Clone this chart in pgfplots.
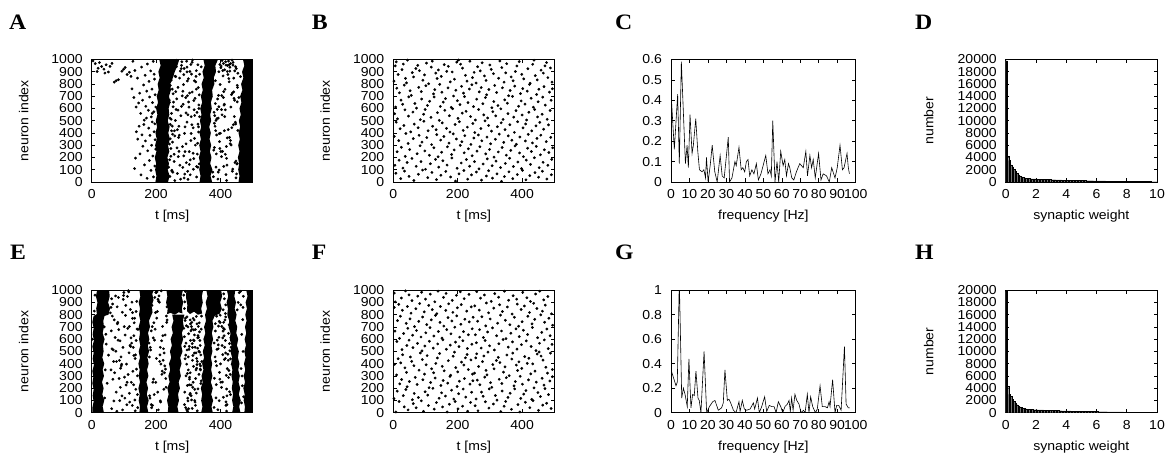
\documentclass[border=0pt]{standalone}
\usepackage{pgfplots}
\pgfplotsset{compat=1.18}
\usepackage{fontspec}
\setmainfont{Liberation Sans}[FakeStretch=1.08]
\newfontfamily\lettfont{Liberation Serif}[FakeStretch=1.08]

\pgfplotsset{
  base/.style={
    scale only axis, height=122.5pt, anchor=south west,
    axis line style={line width=0.8pt},
    tick style={line width=0.6pt, black},
    major tick length=3.5pt,
    tick align=inside,
    scaled ticks=false,
    tick label style={font=\fontsize{13}{13}\selectfont},
    /pgf/number format/assume math mode=true,
    /pgf/number format/1000 sep={},
    xticklabel style={yshift=-4.2pt},
    yticklabel style={xshift=-5.5pt},
    every axis x label/.style={at={(axis description cs:0.5,0)}, anchor=base, yshift=-37.5pt,
      font=\fontsize{13}{13}\selectfont},
  },
  raster/.style={base, width=161pt, xmin=0, xmax=500, ymin=0, ymax=1000,
    xtick={0,200,400}, ytick={0,100,...,1000}, xlabel={t [ms]}, ylabel={neuron index},
    every axis y label/.style={at={(axis description cs:-0.394,0.5)}, rotate=90, anchor=base,
      font=\fontsize{13}{13}\selectfont}},
  spec/.style={base, width=184.7pt, xmin=0, xmax=100, ymin=0,
    xtick={0,10,...,100}, xlabel={frequency [Hz]}},
  hist/.style={base, width=151.3pt, xmin=0, xmax=10, ymin=0, ymax=20000,
    xtick={0,2,...,10}, ytick={0,2000,...,20000}, xlabel={synaptic weight}, ylabel={number},
    every axis y label/.style={at={(axis description cs:-0.4785,0.5)}, rotate=90, anchor=base,
      font=\fontsize{13}{13}\selectfont}},
  dots/.style={only marks, mark=*, mark size=1.2pt, black},
  band/.style={fill=black, draw=none},
  bars/.style={ybar, bar width=0.1, fill=black!55, draw=black, line width=0.2pt},
  trace/.style={black, line width=0.6pt},
}

\begin{document}
\begin{tikzpicture}
\path[use as bounding box] (0pt,0pt) rectangle (1174pt,461pt);

% panel letters
\foreach \l/\x/\y in {A/9/431.7, B/311.7/431.7, C/615/431.7, D/915/431.7,
                      E/10/201.7, F/311.7/201.7, G/615/201.7, H/915/201.7}
  \node[anchor=base west, inner sep=0pt, font=\lettfont\bfseries\fontsize{22}{22}\selectfont] at (\x pt,\y pt) {\l};

% ---------------- A ----------------
\begin{axis}[raster, at={(91.7pt,279pt)}]
\addplot[band] coordinates {(198,0) (237,0) (242,50) (236,100) (240,150) (235,200) (241,250) (237,300) (243,350) (238,400) (242,450) (236,500) (241,550) (239,600) (244,650) (240,700) (246,750) (244,800) (252,850) (258,900) (266,950) (272,1000)
 (210,1000) (214,950) (207,900) (211,850) (205,800) (208,750) (202,700) (206,650) (200,600) (204,550) (199,500) (203,450) (198,400) (202,350) (197,300) (201,250) (196,200) (200,150) (197,100) (201,50)};
\addplot[band] coordinates {(335,0) (374,0) (369,50) (375,100) (368,150) (372,200) (367,250) (371,300) (366,350) (370,400) (365,450) (371,500) (368,550) (373,600) (370,650) (376,700) (374,750) (381,800) (379,850) (386,900) (384,950) (392,1000)
 (347,1000) (351,950) (344,900) (348,850) (341,800) (345,750) (339,700) (343,650) (337,600) (341,550) (336,500) (340,450) (335,400) (339,350) (334,300) (338,250) (333,200) (337,150) (334,100) (338,50)};
\addplot[band] coordinates {(456,0) (500,0) (500,1000) (470,1000) (474,950) (467,900) (471,850) (464,800) (468,750) (461,700) (465,650) (459,600) (463,550) (457,500) (461,450) (456,400) (460,350) (455,300) (459,250) (454,200) (458,150) (455,100) (459,50)};
\addplot[dots] coordinates {
(4,988) (11,966) (17,902) (24,975) (31,943) (38,921) (45,957) (52,898) (63,968) (70,815) (76,827) (83,835) (94,904) (99,920) (104,935) (110,878) (117,896) (122,862) (128,985) (20,929) (41,889) (57,944)
(125,760) (131,690) (134,910) (138,612) (142,848) (146,645) (149,725) (152,560) (155,938) (158,668) (161,792) (163,505) (166,871) (168,618) (171,742) (173,963) (176,585) (178,822) (180,694) (183,907) (185,531) (187,758) (189,648) (191,985) (193,573) (195,840) (197,712) (199,612) (194,880)
(133,110) (136,195) (139,410) (143,350) (147,455) (150,230) (153,58) (156,385) (159,292) (162,470) (164,140) (167,335) (170,522) (172,30) (174,255) (177,440) (179,175) (181,380) (184,95) (186,300) (188,490) (190,212) (192,42) (194,410) (196,130) (197,345) (199,268) (196,475) (188,560)
(239,120) (241,310) (243,45) (244,470) (242,650) (246,210) (248,560) (251,390) (253,720) (249,90)
(247,512) (298,87) (263,941) (319,356) (281,703) (256,168) (333,629) (271,455) (305,902) (290,248) (244,789) (326,41) (268,587) (312,734) (251,326) (295,986) (283,119) (330,472) (259,864) (302,611) (276,23) (317,191) (241,668) (288,397) (323,817) (265,279) (309,533) (254,953) (297,704) (334,148) (272,382) (286,876) (249,96) (315,442) (261,737) (327,568) (293,312) (278,925) (306,59) (243,521) (321,683) (269,207) (300,843) (257,418) (331,771) (284,634) (246,273) (313,996) (274,137) (296,489) (325,909) (262,592) (308,338) (250,758) (289,65) (319,826) (266,427) (303,248) (335,533) (280,981) (253,614) (316,104) (292,689) (270,363) (328,228) (245,887) (299,549) (258,12) (311,467) (285,795) (322,301) (264,679) (294,158) (248,418) (330,957) (277,541) (304,726) (256,226) (318,590) (287,33) (241,949) (309,396) (273,848) (326,127) (260,502) (301,653) (282,289) (334,712) (252,80) (296,937) (315,235) (268,772) (290,450) (324,862) (244,353) (306,181) (279,617) (332,408) (263,994) (299,21) (254,652) (320,543) (286,213) (310,881) (266,70) (329,316) (275,905) (293,564) (247,831) (317,665) (258,376) (303,143) (283,741) (335,880) (250,456) (312,978) (271,250) (297,825) (242,181) (325,758) (287,927) (261,861) (308,960) (279,952) (296,899) (265,988)
(330,120) (332,450) (376,80) (379,260) (381,480) (384,640) (395,900) (398,960) (340,940) (333,600)
(389,517) (437,88) (402,946) (421,360) (394,707) (448,171) (411,628) (383,455) (429,905) (406,250) (452,789) (378,43) (415,589) (441,736) (397,329) (425,987) (386,121) (447,474) (408,866) (432,612) (392,24) (419,193) (444,667) (400,398) (427,818) (381,281) (413,534) (439,954) (404,705) (451,147) (388,384) (423,877) (396,98) (435,443) (410,738) (380,569) (430,313) (449,926) (417,60) (393,522) (442,682) (403,207) (426,844) (385,419) (453,772) (412,635) (398,274) (436,995) (420,138) (446,488) (407,910) (390,593) (431,339) (414,757) (450,66) (384,827) (424,428) (401,249) (443,534) (416,982) (395,615) (438,105) (409,690) (428,364) (387,229) (454,888) (405,548) (419,13) (440,468) (399,796) (433,302) (391,678) (445,159) (412,419) (427,958) (382,542) (437,727) (415,226) (403,591) (448,34) (422,950) (396,395) (441,848) (410,127) (386,503) (452,654) (418,290) (434,713) (393,80) (429,937) (401,933) (409,968) (421,902) (439,976) (447,941) (413,916) (405,991) (431,967) (444,907) (417,955)
(452,150) (454,420) (457,690) (462,860)
};
\end{axis}

% ---------------- B ----------------
\begin{axis}[raster, at={(393.3pt,279pt)}]
\addplot[dots] coordinates {
(6,948) (9,981) (27,917) (31,963) (44,995) (70,926) (76,952) (81,909) (103,971) (118,938) (121,987) (140,915) (158,958) (166,903) (171,944) (197,979) (203,996) (209,962) (215,929) (238,986) (262,941) (270,907) (276,973) (300,955) (304,919) (331,988) (337,934) (352,966) (379,902) (384,947) (391,983) (418,925) (433,961) (437,994) (459,913) (471,948) (476,975) (488,931)
(2,823) (15,877) (38,846) (41,809) (59,893) (63,858) (92,831) (97,874) (110,802) (132,889) (136,845) (149,862) (177,817) (183,898) (190,839) (224,871) (229,823) (246,852) (251,895) (257,808) (283,866) (288,829) (311,884) (327,847) (344,815) (349,891) (366,858) (372,826) (399,879) (405,842) (425,806) (441,868) (447,833) (466,889) (480,852) (493,815)
(11,766) (19,728) (34,791) (52,745) (56,707) (79,773) (87,738) (101,786) (125,719) (129,754) (144,797) (151,733) (170,768) (187,702) (194,749) (212,781) (218,725) (236,759) (244,794) (267,736) (273,771) (290,712) (297,755) (315,788) (321,731) (339,769) (358,704) (363,747) (377,783) (395,722) (402,763) (416,741) (423,796) (445,714) (452,757) (468,779) (485,733) (494,761)
(7,612) (24,668) (29,634) (48,695) (67,641) (72,603) (88,677) (106,625) (113,659) (127,694) (146,617) (155,652) (162,681) (180,609) (199,664) (207,632) (221,697) (232,648) (249,615) (259,676) (278,639) (286,689) (306,606) (312,657) (325,624) (346,671) (354,643) (370,699) (389,618) (397,662) (409,636) (428,684) (435,611) (450,655) (464,693) (472,628) (490,667)
(4,557) (13,516) (36,589) (47,538) (61,571) (84,509) (94,553) (99,592) (117,528) (137,566) (143,503) (160,585) (174,541) (184,598) (201,519) (214,562) (226,577) (240,534) (255,506) (265,592) (281,548) (293,523) (309,574) (318,540) (334,597) (341,511) (356,558) (374,529) (381,583) (400,547) (414,506) (421,569) (439,591) (448,531) (462,553) (478,512) (487,584)
(9,488) (21,435) (33,461) (54,409) (65,472) (77,443) (95,496) (108,418) (122,455) (133,427) (152,483) (165,438) (176,408) (192,469) (205,492) (217,421) (230,448) (247,477) (253,404) (272,436) (285,499) (296,462) (305,415) (323,451) (335,483) (347,427) (362,468) (376,405) (386,492) (403,442) (411,474) (430,417) (443,458) (455,487) (467,431) (482,466)
(3,372) (17,338) (39,396) (46,315) (62,354) (80,381) (89,326) (104,363) (119,305) (135,387) (147,342) (157,371) (173,318) (186,393) (196,351) (213,329) (222,378) (241,307) (250,359) (264,384) (275,336) (291,367) (302,312) (317,349) (329,391) (343,323) (357,376) (368,341) (382,308) (393,367) (410,335) (419,389) (432,319) (446,356) (458,382) (475,329) (489,364)
(12,247) (25,283) (37,209) (51,265) (74,231) (83,296) (98,254) (112,218) (126,279) (139,206) (150,243) (168,287) (181,225) (189,262) (208,299) (220,238) (233,271) (245,214) (260,252) (269,288) (287,229) (299,266) (313,203) (326,245) (338,281) (351,219) (365,258) (378,294) (392,237) (404,207) (417,276) (429,249) (444,291) (457,222) (469,263) (483,241) (495,279)
(5,136) (18,178) (30,114) (43,159) (58,192) (71,128) (86,167) (100,104) (115,149) (131,185) (141,121) (154,173) (167,138) (182,196) (198,112) (211,155) (227,183) (237,129) (252,166) (266,107) (279,147) (292,189) (307,133) (319,171) (333,118) (348,152) (361,194) (373,126) (387,163) (398,109) (413,179) (426,144) (438,198) (453,117) (465,161) (480,136) (492,185)
(8,71) (23,28) (35,89) (49,46) (64,12) (78,63) (91,97) (107,35) (120,78) (134,19) (148,55) (163,86) (178,41) (193,7) (204,67) (219,94) (231,23) (243,58) (258,81) (274,15) (289,49) (296,92) (308,31) (322,66) (336,5) (345,44) (359,83) (371,27) (385,61) (401,95) (412,18) (424,52) (440,76) (451,39) (463,88) (477,24) (491,59)
};
\end{axis}

% ---------------- C ----------------
\begin{axis}[spec, at={(671pt,279pt)}, ymax=0.6, ytick={0,0.1,0.2,0.3,0.4,0.5,0.6}]
\addplot[trace] coordinates {
(0,0.44) (1.8,0.16) (3.6,0.43) (4.5,0.09) (5.6,0.59) (7.8,0.09) (8.7,0.18) (9.4,0.07) (10.3,0.33) (11.4,0.14) (12.1,0.18) (13.4,0.31) (14.5,0.15) (15.4,0.06) (16.8,0.05) (17.8,0.06) (18.7,0.02) (19.2,0.12) (20.1,0.0) (21.2,0.08) (22.3,0.18) (23.7,0.05) (25.0,0.0) (26.6,0.13) (27.7,0.03) (28.8,0.02) (31.0,0.22) (31.7,0.0) (33.0,0.02) (34.6,0.10) (35.3,0.08) (36.8,0.17) (38.0,0.06) (38.9,0.07) (39.9,0.05) (40.8,0.10) (41.7,0.11) (42.6,0.03) (43.8,0.06) (44.9,0.04) (46.2,0.09) (47.3,0.01) (48.7,0.04) (51.3,0.13) (52.5,0.04) (53.6,0.06) (54.3,0.03) (55.1,0.30) (56.3,0.0) (57.4,0.10) (58.3,0.0) (59.4,0.15) (60.7,0.08) (61.6,0.11) (62.5,0.03) (63.6,0.09) (64.3,0.07) (65.4,0.02) (66.5,0.01) (67.9,0.05) (69.7,0.09) (71.6,0.07) (73.0,0.15) (73.9,0.03) (75.2,0.13) (76.1,0.07) (77.0,0.11) (78.1,0.02) (79.9,0.14) (81.2,0.01) (82.4,0.04) (84.2,0.03) (85.7,0.0) (87.0,0.07) (88.8,0.02) (90.0,0.07) (91.5,0.18) (92.8,0.06) (93.7,0.07) (95.3,0.14) (96.0,0.07) (96.6,0.04)
};
\end{axis}

% ---------------- D ----------------
\begin{axis}[hist, at={(1005.7pt,279pt)}]
\addplot[bars] coordinates {
(0.05,19800) (0.15,4200) (0.25,3500) (0.35,2800) (0.45,2500) (0.55,2100) (0.65,1750) (0.75,1450) (0.85,1200) (0.95,1000)
(1.05,880) (1.15,780) (1.25,700) (1.35,640) (1.45,600) (1.55,570) (1.65,550) (1.75,530) (1.85,510) (1.95,500)
(2.05,490) (2.15,480) (2.25,470) (2.35,460) (2.45,450) (2.55,440) (2.65,430) (2.75,420) (2.85,410) (2.95,400)
(3.05,390) (3.15,380) (3.25,370) (3.35,360) (3.45,350) (3.55,340) (3.65,330) (3.75,320) (3.85,310) (3.95,300)
(4.05,295) (4.15,290) (4.25,285) (4.35,280) (4.45,275) (4.55,270) (4.65,265) (4.75,260) (4.85,255) (4.95,250)
(5.05,240) (5.15,235) (5.25,230) (5.35,225) (5.45,220) (5.55,215) (5.65,210) (5.75,205) (5.85,200) (5.95,195)
(6.05,190) (6.15,185) (6.25,180) (6.35,175) (6.45,170) (6.55,165) (6.65,160) (6.75,155) (6.85,150) (6.95,145)
(7.05,140) (7.15,135) (7.25,130) (7.35,125) (7.45,120) (7.55,118) (7.65,115) (7.75,112) (7.85,110) (7.95,108)
(8.05,105) (8.15,102) (8.25,100) (8.35,98) (8.45,95) (8.55,92) (8.65,90) (8.75,88) (8.85,85) (8.95,82)
(9.05,80) (9.15,78) (9.25,75) (9.35,72) (9.45,70) (9.55,68) (9.65,65) (9.75,62) (9.85,60) (9.95,58)
};
\end{axis}

% ---------------- E ----------------
\begin{axis}[raster, at={(91.7pt,48.3pt)}]
\addplot[band] coordinates {(2,0) (38,0) (34,50) (39,100) (33,150) (37,200) (32,250) (38,300) (34,350) (39,400) (33,450) (37,500) (35,550) (40,600) (34,650) (38,700) (36,750) (40,790) (52,800) (57,850) (51,900) (56,950) (54,1000)
 (17,1000) (13,950) (18,900) (14,850) (16,805) (6,790) (2,740) (6,690) (3,640) (7,590) (2,540) (6,490) (3,440) (7,390) (2,340) (5,290) (2,240) (6,190) (3,140) (6,90) (2,40)};
\addplot[band] coordinates {(148,0) (176,0) (172,50) (177,100) (171,150) (175,200) (170,250) (176,300) (172,350) (177,400) (173,450) (178,500) (174,550) (179,600) (175,650) (181,700) (178,750) (184,790) (189,820) (186,870) (192,920) (188,970) (193,1000)
 (148,1000) (151,950) (146,900) (150,850) (147,800) (151,750) (146,700) (150,650) (147,600) (151,550) (146,500) (150,450) (145,400) (149,350) (146,300) (150,250) (145,200) (149,150) (146,100) (150,50)};
\addplot[band] coordinates {(232,1000) (283,1000) (279,950) (284,900) (280,850) (282,810) (270,820) (258,800) (245,815) (234,805) (236,850) (231,900) (235,950)};
\addplot[band] coordinates {(294,1000) (346,1000) (342,950) (345,900) (340,850) (343,810) (330,800) (318,825) (305,805) (296,830) (297,880) (293,940)};
\addplot[band] coordinates {(236,0) (270,0) (266,50) (271,100) (268,150) (274,200) (270,250) (277,300) (273,350) (279,400) (275,450) (282,500) (278,550) (284,600) (280,650) (286,700) (283,750) (288,800)
 (250,800) (254,750) (248,700) (252,650) (245,600) (249,550) (243,500) (247,450) (240,400) (244,350) (238,300) (242,250) (235,200) (239,150) (234,100) (238,50)};
\addplot[band] coordinates {(340,0) (376,0) (372,50) (377,100) (371,150) (376,200) (370,250) (375,300) (371,350) (374,400) (370,450) (375,500) (372,550) (377,600) (373,650) (378,700) (375,750) (382,790) (398,810) (404,850) (399,900) (405,950) (402,1000)
 (356,1000) (360,950) (354,900) (358,850) (352,800) (355,750) (349,700) (353,650) (347,600) (351,550) (345,500) (349,450) (343,400) (347,350) (341,300) (345,250) (339,200) (343,150) (340,100) (344,50)};
\addplot[band] coordinates {(436,0) (462,0) (458,50) (463,100) (457,150) (461,200) (456,250) (460,300) (455,350) (459,400) (454,450) (457,500) (451,550) (455,600) (449,650) (452,700) (446,750) (450,800) (444,850) (448,900) (443,950) (446,1000)
 (420,1000) (424,950) (419,900) (423,850) (421,800) (427,750) (425,700) (431,650) (429,600) (434,550) (431,500) (436,450) (433,400) (437,350) (434,300) (438,250) (435,200) (439,150) (436,100) (440,50)};
\addplot[band] coordinates {(474,0) (500,0) (500,1000) (480,1000) (484,950) (478,900) (482,850) (477,800) (481,750) (476,700) (480,650) (475,600) (479,550) (474,500) (478,450) (473,400) (477,350) (472,300) (476,250) (471,200) (475,150) (472,100) (476,50)};
\addplot[dots] coordinates {
(40,120) (42,350) (45,560) (39,700) (48,240) (52,470) (44,640) (60,860) (62,930) (58,815) (8,830) (10,960) (2,600)
(67,512) (118,87) (83,941) (139,356) (101,703) (76,168) (131,629) (91,455) (125,902) (110,248) (64,789) (143,41) (88,587) (132,734) (71,326) (115,986) (103,119) (136,472) (79,864) (122,611) (96,23) (137,191) (61,668) (108,397) (127,817) (85,279) (129,533) (74,953) (117,704) (142,148) (92,382) (106,876) (69,96) (135,442) (81,737) (124,568) (113,312) (98,925) (126,59) (63,521) (141,683) (89,207) (120,843) (77,418) (133,771) (104,634) (66,273) (114,996) (94,137) (116,489) (140,909) (82,592) (128,338) (70,758) (109,65) (138,826) (86,427) (123,248) (97,533) (100,981) (73,614) (134,104) (112,689) (90,363) (130,228) (65,887) (119,549) (78,12) (131,467) (105,795) (142,301) (84,679) (117,158) (68,418) (99,957) (121,541) (80,726) (107,226) (138,590) (62,33) (111,949) (93,396) (127,770) (75,502) (102,290) (87,99) (144,680) (60,350) (95,820) (135,15)
(183,512) (214,87) (196,941) (229,356) (188,703) (205,168) (221,629) (179,455) (210,902) (199,248) (232,789) (186,41) (217,587) (193,734) (226,326) (203,986) (181,119) (212,472) (234,864) (191,611) (207,23) (224,191) (185,668) (215,397) (198,817) (230,279) (182,533) (209,953) (220,704) (194,148) (227,382) (187,876) (213,96) (201,443) (233,737) (178,568) (218,313) (206,925) (189,60) (223,522) (197,682) (231,207) (184,844) (211,419) (202,772) (228,635) (192,274) (216,995) (180,138) (225,488) (208,910) (195,593) (219,339) (234,757) (185,66) (204,827) (222,428) (190,249) (213,534) (199,982)
(286,960) (289,905) (288,850) (291,990)
(296,512) (321,87) (303,541) (337,356) (310,703) (289,168) (330,629) (300,455) (327,392) (315,248) (341,789) (292,41) (318,587) (334,734) (306,326) (325,786) (298,119) (339,472) (312,564) (329,611) (295,23) (320,191) (308,668) (336,397) (302,517) (323,279) (313,533) (290,753) (331,704) (305,148) (338,382) (317,676) (299,96) (326,443) (311,737) (293,568) (333,313) (307,725) (322,60) (297,222) (340,682) (314,207) (301,644) (328,419) (291,772) (319,635) (304,274) (335,495) (309,138) (324,488) (294,710) (316,593) (339,239) (306,757) (288,66) (329,527) (313,428) (300,349) (321,534) (296,782) (332,615) (310,104) (286,689) (326,363) (303,228) (319,487) (337,549) (298,12) (314,467) (330,195) (293,301) (322,679) (306,158) (342,418) (318,757) (289,541) (327,726) (309,226) (336,590) (301,33) (324,349) (295,396) (315,770) (333,502) (304,290) (288,620) (320,99) (311,680) (338,350) (297,320) (328,15) (316,378) (292,470) (307,590) (335,660) (299,700) (325,160) (312,35) (340,260) (290,440)
(389,517) (417,88) (396,746) (421,360) (394,707) (428,171) (411,628) (383,455) (429,505) (406,250) (431,689) (380,43) (415,589) (399,736) (397,329) (425,287) (386,121) (407,474) (408,666) (432,612) (392,24) (419,193) (384,667) (400,398) (427,718) (381,281) (413,534) (393,554) (404,705) (431,147) (388,384) (423,477) (396,98) (415,443) (410,738) (380,569) (430,313) (409,126) (417,60) (393,522) (412,682) (403,207) (426,344) (385,419) (433,772) (412,435) (398,274) (436,395) (420,138) (416,488) (407,610) (390,593) (431,439) (414,757) (420,66) (384,727) (424,428) (401,249) (433,534) (416,782) (395,615) (418,305) (409,690) (428,564) (387,229) (388,788) (405,548) (419,13) (425,648) (399,796)
(408,840) (412,930) (416,880) (410,970) (415,810)
(465,80) (468,220) (464,360) (470,500) (466,640) (469,760) (463,880) (471,950) (467,300) (472,130) (455,900) (458,980) (452,840) (462,990) (470,860)
};
\end{axis}

% ---------------- F ----------------
\begin{axis}[raster, at={(393.3pt,48.3pt)}]
\addplot[dots] coordinates {
(256,448) (259,481) (277,417) (281,463) (294,495) (320,426) (326,452) (331,409) (353,471) (368,438) (371,487) (390,415) (408,458) (416,403) (421,444) (447,479) (453,496) (459,462) (465,429) (488,486) (15,441) (23,407) (29,473) (53,455) (57,419) (84,488) (90,434) (105,466) (132,402) (137,447) (144,483) (171,425) (186,461) (190,494) (212,413) (224,448) (229,475) (241,431)
(252,323) (265,377) (288,346) (291,309) (309,393) (313,358) (342,331) (347,374) (360,302) (382,389) (386,345) (399,362) (427,317) (433,398) (440,339) (474,371) (479,323) (494,352) (4,395) (10,308) (36,366) (41,329) (64,384) (80,347) (97,315) (102,391) (119,358) (125,326) (152,379) (158,342) (178,306) (194,368) (200,333) (219,389) (233,352) (246,315)
(261,266) (269,228) (284,291) (302,245) (306,207) (329,273) (337,238) (351,286) (375,219) (379,254) (394,297) (401,233) (420,268) (437,202) (444,249) (462,281) (468,225) (486,259) (494,294) (20,236) (26,271) (43,212) (50,255) (68,288) (74,231) (92,269) (111,204) (116,247) (130,283) (148,222) (155,263) (169,241) (176,296) (198,214) (205,257) (221,279) (238,233) (247,261)
(257,112) (274,168) (279,134) (298,195) (317,141) (322,103) (338,177) (356,125) (363,159) (377,194) (396,117) (405,152) (412,181) (430,109) (449,164) (457,132) (471,197) (482,148) (2,115) (12,176) (31,139) (39,189) (59,106) (65,157) (78,124) (99,171) (107,143) (123,199) (142,118) (150,162) (162,136) (181,184) (188,111) (203,155) (217,193) (225,128) (243,167)
(254,57) (263,16) (286,89) (297,38) (311,71) (334,9) (344,53) (349,92) (367,28) (387,66) (393,6) (410,85) (424,41) (434,98) (451,19) (464,62) (476,77) (490,34) (8,6) (18,92) (34,48) (46,23) (62,74) (71,40) (87,97) (94,11) (109,58) (127,29) (134,83) (153,47) (167,6) (174,69) (192,91) (201,31) (215,53) (231,12) (240,84)
(259,988) (271,935) (283,961) (304,909) (315,972) (327,943) (345,992) (358,918) (372,955) (383,927) (402,983) (415,938) (426,908) (442,969) (455,992) (467,921) (480,948) (3,977) (6,904) (25,936) (38,994) (49,962) (58,915) (76,951) (88,983) (100,927) (115,968) (129,905) (139,992) (156,942) (164,974) (183,917) (196,958) (208,987) (220,931) (235,966)
(253,872) (267,838) (289,896) (296,815) (312,854) (330,881) (339,826) (354,863) (369,805) (385,887) (397,842) (407,871) (423,818) (436,893) (446,851) (463,829) (472,878) (491,807) (3,859) (17,884) (28,836) (44,867) (55,812) (70,849) (82,891) (96,823) (110,876) (121,841) (135,808) (146,867) (163,835) (172,889) (185,819) (199,856) (211,882) (228,829) (242,864)
(262,747) (275,783) (287,709) (301,765) (324,731) (333,796) (348,754) (362,718) (376,779) (389,706) (400,743) (418,787) (431,725) (439,762) (458,799) (470,738) (483,771) (495,714) (13,752) (22,788) (40,729) (52,766) (66,703) (79,745) (91,781) (104,719) (118,758) (131,794) (145,737) (157,707) (170,776) (182,749) (197,791) (210,722) (222,763) (236,741) (248,779)
(255,636) (268,678) (280,614) (293,659) (308,692) (321,628) (336,667) (350,604) (365,649) (381,685) (391,621) (404,673) (417,638) (432,696) (448,612) (461,655) (477,683) (487,629) (5,666) (19,607) (32,647) (45,689) (60,633) (72,671) (86,618) (101,652) (114,694) (126,626) (140,663) (151,609) (166,679) (179,644) (191,698) (206,617) (218,661) (233,636) (245,685)
(258,571) (273,528) (285,589) (299,546) (314,512) (328,563) (341,597) (357,535) (370,578) (384,519) (398,555) (413,586) (428,541) (443,507) (454,567) (469,594) (481,523) (493,558) (11,581) (27,515) (42,549) (49,592) (61,531) (75,566) (89,505) (98,544) (112,583) (124,527) (138,561) (154,595) (165,518) (177,552) (193,576) (204,539) (216,588) (230,524) (244,559)
};
\end{axis}

% ---------------- G ----------------
\begin{axis}[spec, at={(671pt,48.3pt)}, ymax=1, ytick={0,0.2,0.4,0.6,0.8,1}]
\addplot[trace] coordinates {
(0,0.35) (2.7,0.22) (3.4,0.25) (4.5,1.08) (5.8,0.12) (6.7,0.20) (7.6,0.15) (8.8,0.05) (9.7,0.44) (10.8,0.04) (11.7,0.15) (12.6,0.14) (13.5,0.34) (14.6,0.12) (15.3,0.10) (16.2,0.0) (17.9,0.50) (19.3,0.0) (20.8,0.05) (22.6,0.09) (23.8,0.10) (25.6,0.02) (27.4,0.04) (28.3,0.08) (29.2,0.35) (30.5,0.10) (31.4,0.11) (32.3,0.08) (33.8,0.02) (35.2,0.0) (36.8,0.09) (37.4,0.01) (38.6,0.10) (39.7,0.03) (41.0,0.02) (42.8,0.03) (44.6,0.08) (45.3,0.03) (46.8,0.12) (47.8,0.0) (49.1,0.05) (50.7,0.13) (51.8,0.01) (53.2,0.06) (54.5,0.05) (55.8,0.05) (56.9,0.0) (58.1,0.09) (59.4,0.05) (60.5,0.0) (61.7,0.05) (63.0,0.07) (63.9,0.10) (64.6,0.01) (65.3,0.12) (66.1,0.02) (67.1,0.15) (68.1,0.10) (69.3,0.07) (70.4,0.0) (71.7,0.02) (72.6,0.0) (73.8,0.15) (74.7,0.0) (75.6,0.13) (76.7,0.05) (78.2,0.0) (79.2,0.03) (80.7,0.22) (81.9,0.05) (83.4,0.05) (84.7,0.04) (85.6,0.09) (86.1,0.05) (87.5,0.27) (88.8,0.0) (89.7,0.06) (90.8,0.06) (92.1,0.02) (93.9,0.54) (94.8,0.07) (96.0,0.04) (96.8,0.04)
};
\end{axis}

% ---------------- H ----------------
\begin{axis}[hist, at={(1005.7pt,48.3pt)}]
\addplot[bars] coordinates {
(0.05,19800) (0.15,4300) (0.25,3000) (0.35,2700) (0.45,2200) (0.55,1900) (0.65,1600) (0.75,1300) (0.85,1100) (0.95,950)
(1.05,850) (1.15,760) (1.25,690) (1.35,630) (1.45,590) (1.55,560) (1.65,540) (1.75,520) (1.85,505) (1.95,495)
(2.05,485) (2.15,475) (2.25,465) (2.35,455) (2.45,445) (2.55,435) (2.65,425) (2.75,415) (2.85,405) (2.95,395)
(3.05,385) (3.15,375) (3.25,365) (3.35,355) (3.45,345) (3.55,335) (3.65,325) (3.75,315) (3.85,305) (3.95,298)
(4.05,292) (4.15,286) (4.25,280) (4.35,275) (4.45,270) (4.55,264) (4.65,258) (4.75,252) (4.85,246) (4.95,240)
(5.05,234) (5.15,228) (5.25,222) (5.35,216) (5.45,210) (5.55,205) (5.65,200) (5.75,195) (5.85,190) (5.95,186)
(6.05,182) (6.15,178) (6.25,174) (6.35,170) (6.45,166) (6.55,162) (6.65,158) (6.75,154) (6.85,150) (6.95,146)
(7.05,142) (7.15,138) (7.25,134) (7.35,130) (7.45,126) (7.55,122) (7.65,118) (7.75,115) (7.85,112) (7.95,109)
(8.05,106) (8.15,103) (8.25,100) (8.35,97) (8.45,94) (8.55,91) (8.65,88) (8.75,85) (8.85,82) (8.95,80)
(9.05,78) (9.15,76) (9.25,74) (9.35,72) (9.45,70) (9.55,68) (9.65,66) (9.75,64) (9.85,62) (9.95,60)
};
\end{axis}
\end{tikzpicture}
\end{document}
